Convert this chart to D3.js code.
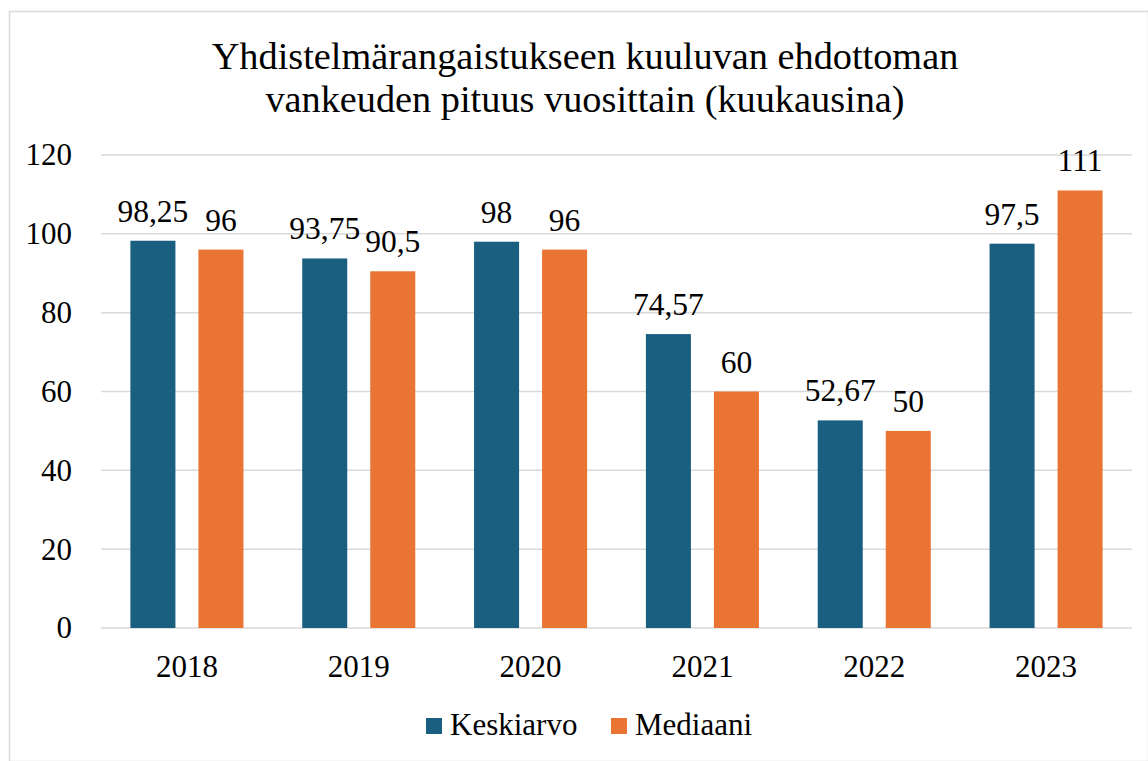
<!DOCTYPE html>
<html>
<head>
<meta charset="utf-8">
<script src="https://cdn.jsdelivr.net/npm/d3@7"></script>
<style>
  body { margin: 0; background: #fff; }
  text { font-family: "Liberation Serif", "Times New Roman", serif; fill: #000; }
</style>
</head>
<body>
<div id="chart"></div>
<script>
// chart data
var years = ["2018", "2019", "2020", "2021", "2022", "2023"];
var series = ["Keskiarvo", "Mediaani"];
var keskiarvo = [98.25, 93.75, 98, 74.57, 52.67, 97.5];
var mediaani = [96, 90.5, 96, 60, 50, 111];
var yTicks = [0, 20, 40, 60, 80, 100, 120];
var colors = ["#1b5f80", "#e97434"];

var W = 1148, H = 761;
var margin = {top: 155, right: 16, bottom: 133, left: 101},
    width = W - margin.left - margin.right,
    height = H - margin.top - margin.bottom;

var svg = d3.select("#chart").append("svg")
    .attr("width", W)
    .attr("height", H);

// outer frame
svg.append("rect")
    .attr("x", 9.5).attr("y", 11.5)
    .attr("width", W - 9).attr("height", H - 11)
    .attr("fill", "#fff")
    .attr("stroke", "#d9d9d9")
    .attr("stroke-width", 1.5);

// title
svg.append("text")
    .attr("x", 585).attr("y", 69)
    .attr("text-anchor", "middle")
    .style("font-size", "38.3px")
    .text("Yhdistelmärangaistukseen kuuluvan ehdottoman");
svg.append("text")
    .attr("x", 585).attr("y", 112)
    .attr("text-anchor", "middle")
    .style("font-size", "38.3px")
    .text("vankeuden pituus vuosittain (kuukausina)");

var g = svg.append("g")
    .attr("transform", "translate(" + margin.left + "," + margin.top + ")");

var x0 = d3.scaleBand().domain(years).range([0, width]).padding(0);
var x1 = d3.scaleBand().domain(series).range([0, x0.bandwidth()])
    .paddingInner(0.338).paddingOuter(0.432);
var y = d3.scaleLinear().domain([0, 120]).range([height, 0]);

// gridlines
g.selectAll(".grid")
    .data(yTicks)
  .enter().append("line")
    .attr("x1", 0).attr("x2", width)
    .attr("y1", function(d) { return y(d); })
    .attr("y2", function(d) { return y(d); })
    .attr("stroke", "#d9d9d9")
    .attr("stroke-width", 1.5);

// y axis labels
var yAxis = g.append("g")
    .call(d3.axisLeft(y).tickValues(yTicks).tickSize(0).tickPadding(29));
yAxis.select(".domain").remove();
yAxis.attr("font-family", null);
yAxis.selectAll("text")
    .style("font-family", "'Liberation Serif', serif")
    .style("font-size", "31px")
    .attr("fill", "#000");

// x axis labels
var xAxis = g.append("g")
    .attr("transform", "translate(0," + height + ")")
    .call(d3.axisBottom(x0).tickSize(0).tickPadding(27));
xAxis.select(".domain").remove();
xAxis.attr("font-family", null);
xAxis.selectAll("text")
    .style("font-family", "'Liberation Serif', serif")
    .style("font-size", "31px")
    .attr("fill", "#000");

var rows = years.map(function(yr, i) {
  return {year: yr, values: [keskiarvo[i], mediaani[i]]};
});

var groups = g.selectAll(".year")
    .data(rows)
  .enter().append("g")
    .attr("transform", function(d) { return "translate(" + x0(d.year) + ",0)"; });

var bars = groups.selectAll("g")
    .data(function(d) {
      return series.map(function(s, j) { return {key: s, j: j, value: d.values[j]}; });
    })
  .enter().append("g");

bars.append("rect")
    .attr("x", function(d) { return x1(d.key); })
    .attr("width", x1.bandwidth())
    .attr("y", function(d) { return y(d.value); })
    .attr("height", function(d) { return height - y(d.value); })
    .attr("fill", function(d) { return colors[d.j]; });

// value labels
bars.append("text")
    .attr("x", function(d) { return x1(d.key) + x1.bandwidth() / 2; })
    .attr("y", function(d) { return y(d.value) - 19; })
    .attr("text-anchor", "middle")
    .style("font-size", "31.5px")
    .text(function(d) { return String(d.value).replace(".", ","); });

// legend
var legend = svg.append("g");
var legendX = [426, 611];
series.forEach(function(s, i) {
  legend.append("rect")
      .attr("x", legendX[i]).attr("y", 718)
      .attr("width", 16).attr("height", 16)
      .attr("fill", colors[i]);
  legend.append("text")
      .attr("x", legendX[i] + 24).attr("y", 735)
      .style("font-size", "31px")
      .text(s);
});
</script>
</body>
</html>
